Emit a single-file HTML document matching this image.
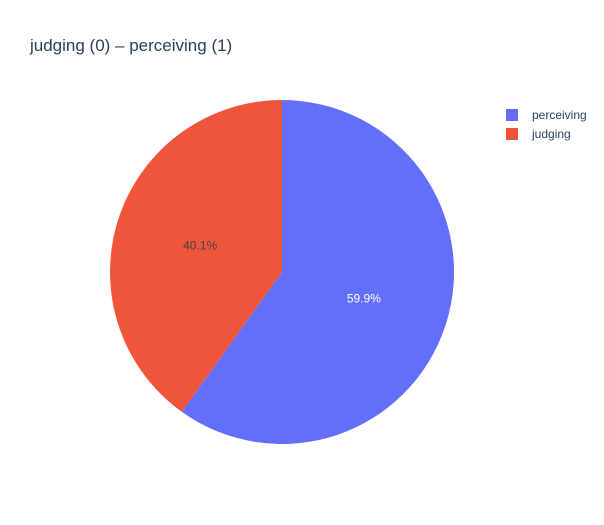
<!DOCTYPE html>
<html>
<head>
<meta charset="utf-8">
<style>
  html, body { margin:0; padding:0; background:#fff; }
  svg { display:block; font-family:"Liberation Sans", Arial, sans-serif; }
</style>
</head>
<body>
<svg id="chart" width="604" height="525" viewBox="0 0 604 525">
  <rect width="604" height="525" fill="#fff"/>
  <text x="30" y="51" font-size="17" fill="#2a3f5f">judging (0) – perceiving (1)</text>
  <g id="slices"></g>
  <g id="legend"></g>
</svg>
<script>
const labels = ["perceiving", "judging"];
const values = [59.9, 40.1];
const colors = ["#636efa", "#ef553b"];
const textColors = ["#ffffff", "#444444"];

const cx = 282, cy = 272, r = 172;
const NS = "http://www.w3.org/2000/svg";
const slicesG = document.getElementById("slices");
const legendG = document.getElementById("legend");
const total = values.reduce((a, b) => a + b, 0);

function pt(angle, rad) {
  return [cx + rad * Math.sin(angle), cy - rad * Math.cos(angle)];
}

let start = 0;
values.forEach((v, i) => {
  const sweep = v / total * Math.PI * 2;
  const end = start + sweep;
  const [x1, y1] = pt(start, r);
  const [x2, y2] = pt(end, r);
  const large = sweep > Math.PI ? 1 : 0;
  const path = document.createElementNS(NS, "path");
  path.setAttribute("d", `M${cx},${cy} L${x1},${y1} A${r},${r} 0 ${large} 1 ${x2},${y2} Z`);
  path.setAttribute("fill", colors[i]);
  path.setAttribute("stroke", "#fff");
  path.setAttribute("stroke-width", "0");
  
  
  slicesG.appendChild(path);

  const mid = start + sweep / 2;
  const [tx, ty] = pt(mid, r * 0.5);
  const t = document.createElementNS(NS, "text");
  t.setAttribute("x", tx);
  t.setAttribute("y", ty + 4);
  t.setAttribute("text-anchor", "middle");
  t.setAttribute("font-size", "12");
  t.setAttribute("fill", textColors[i]);
  t.textContent = (v / total * 100).toFixed(1) + "%";
  
  
  slicesG.appendChild(t);
  start = end;
});

labels.forEach((lab, i) => {
  const g = document.createElementNS(NS, "g");
  
  
  const y = 115 + i * 19;
  const rect = document.createElementNS(NS, "rect");
  rect.setAttribute("x", 506);
  rect.setAttribute("y", y - 6);
  rect.setAttribute("width", 12);
  rect.setAttribute("height", 12);
  rect.setAttribute("fill", colors[i]);
  g.appendChild(rect);
  const t = document.createElementNS(NS, "text");
  t.setAttribute("x", 532);
  t.setAttribute("y", y + 4);
  t.setAttribute("font-size", "12");
  t.setAttribute("fill", "#2a3f5f");
  t.textContent = lab;
  g.appendChild(t);
  legendG.appendChild(g);
});
</script>
</body>
</html>
